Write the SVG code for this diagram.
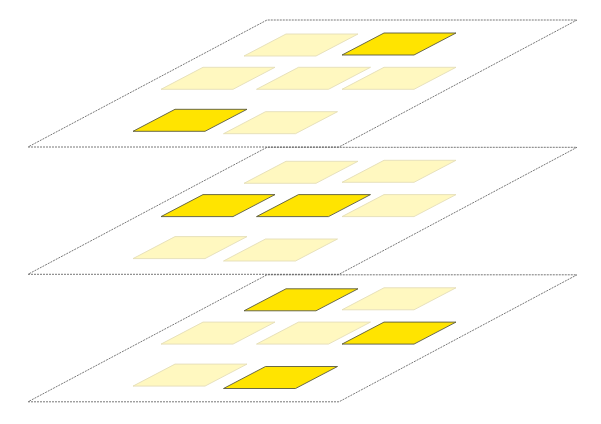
<svg xmlns="http://www.w3.org/2000/svg" width="601" height="424" viewBox="0 0 601 424">
<style>
.plane{fill:none;stroke:#555;stroke-width:0.8;stroke-dasharray:2,1}
.on{fill:#FFE400;stroke:#5a5a40;stroke-width:0.9}
.off{fill:#FFF8C0;stroke:#E4DEB8;stroke-width:0.9}
</style>
<rect width="601" height="424" fill="#fff"/>
<defs>
<path id="tile" d="M0,0 L72,0 L114,-22 L42,-22 Z"/>
</defs>
<g id="layer1">
<polygon class="plane" points="28,147 339,147 577,20 267,20"/>
<use href="#tile" class="off" x="244" y="56"/>
<use href="#tile" class="on" x="342" y="55"/>
<use href="#tile" class="off" x="161" y="89.3"/>
<use href="#tile" class="off" x="256.5" y="89.3"/>
<use href="#tile" class="off" x="342" y="89.3"/>
<use href="#tile" class="on" x="133" y="131.3"/>
<use href="#tile" class="off" x="223.5" y="133.7"/>
</g>
<g id="layer2" transform="translate(0,127.3)">
<polygon class="plane" points="28,147 339,147 577,20 267,20"/>
<use href="#tile" class="off" x="244" y="56"/>
<use href="#tile" class="off" x="342" y="55"/>
<use href="#tile" class="on" x="161" y="89.3"/>
<use href="#tile" class="on" x="256.5" y="89.3"/>
<use href="#tile" class="off" x="342" y="89.3"/>
<use href="#tile" class="off" x="133" y="131.3"/>
<use href="#tile" class="off" x="223.5" y="133.7"/>
</g>
<g id="layer3" transform="translate(0,254.8)">
<polygon class="plane" points="28,147 339,147 577,20 267,20"/>
<use href="#tile" class="on" x="244" y="56"/>
<use href="#tile" class="off" x="342" y="55"/>
<use href="#tile" class="off" x="161" y="89.3"/>
<use href="#tile" class="off" x="256.5" y="89.3"/>
<use href="#tile" class="on" x="342" y="89.3"/>
<use href="#tile" class="off" x="133" y="131.3"/>
<use href="#tile" class="on" x="223.5" y="133.7"/>
</g>
<g id="connectors"/>
</svg>
